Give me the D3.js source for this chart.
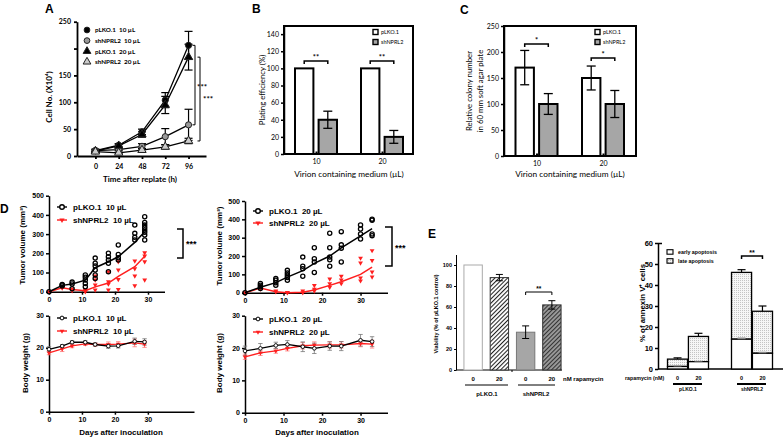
<!DOCTYPE html>
<html>
<head>
<meta charset="utf-8">
<script src="https://cdn.jsdelivr.net/npm/d3@7"></script>
<style>
  body { margin: 0; background: #fff; }
  text { white-space: pre; }
</style>
</head>
<body>
<svg id="fig" width="783" height="438"></svg>
<script>
// ---------- data ----------
// A: cell growth after replating
const hours = [0, 24, 48, 72, 96];
const cellTicks = [0, 50, 100, 150, 200, 250];
const cellTickLabels = ["0", "50", "100", "150", "", "250"];
const seriesA = ["pLKO.1  10 µL", "shNPRL2  10 µL", "pLKO.1  20 µL", "shNPRL2  20 µL"];
const cellPlko10 = [10, 20, 45, 104, 206];
const cellPlko10Err = [3, 3, 5, 14, 26];
const cellSh10 = [10, 12, 18, 36, 58];
const cellSh10Err = [2, 2, 5, 15, 29];
const cellPlko20 = [9, 19, 40, 95, 184];
const cellPlko20Err = [2, 3, 5, 16, 24];
const cellSh20 = [8, 6, 11, 17, 28];
const cellSh20Err = [1, 1, 3, 4, 5];

// B, C: plating efficiency / soft agar colonies
const doses = ["10", "20"];
const groups = ["pLKO.1", "shNPRL2"];
const plateTicks = [0, 20, 40, 60, 80, 100, 120, 140];
const platePlko = [100, 100];
const platePlkoErr = [0, 0];
const plateSh = [40, 20];
const plateShErr = [10, 7.5];
const colonyTicks = [0, 50, 100, 150, 200, 250];
const colonyPlko = [170, 150];
const colonyPlkoErr = [33, 23];
const colonySh = [100, 100];
const colonyShErr = [20, 26];

// D: xenograft tumour volume and body weight
const tumDays10 = [0, 4, 7, 11, 14, 18, 21, 26, 29];
const tumPlko10 = [0, 33, 40, 60, 125, 156, 182, 257, 312];
const tumSh10 = [0, 20, 12, 5, 25, 45, 80, 130, 185];
const tumPlko10Pts = [[0], [30, 35, 38], [50, 40, 15], [87, 75, 61, 43, 26], [175, 148, 134, 113, 87, 69],
  [200, 182, 165, 148, 104], [243, 194, 177, 165], [347, 304, 283, 269], [390, 361, 347, 335, 321, 309, 295, 269]];
const tumSh10Pts = [[0], [20, 22], [15, 5], [0, 5, 10], [82, 61, 35, 9], [104, 52, 40, 9],
  [156, 113, 64, 12], [160, 120, 82, 31], [203, 186, 156, 61]];
const tumDays20 = [0, 4, 8, 11, 15, 18, 22, 25, 30, 33];
const tumPlko20 = [0, 30, 55, 85, 120, 160, 200, 245, 310, 350];
const tumSh20 = [0, 25, 5, 0, 3, 15, 40, 60, 100, 140];
const tumPlko20Pts = [[0], [50, 41, 32, 23], [77, 68, 54, 41], [122, 108, 95, 83, 68], [194, 144, 131, 90],
  [245, 185, 167, 110], [324, 245, 194, 180, 144], [333, 261, 243, 167], [369, 347, 320, 293], [401, 395, 320, 311]];
const tumSh20Pts = [[0], [25, 20], [10, 5], [0, 2], [10, 0], [40, 20, 10], [75, 50, 30], [90, 70, 50],
  [189, 162, 81, 65], [230, 176, 113, 86]];
const tumTicks = [0, 100, 200, 300, 400, 500];
const dayTicks = [0, 10, 20, 30];
const bwTicks = [0, 10, 20, 30];
const bwPlko10 = [19.5, 20.5, 21.7, 21.7, 21.0, 20.5, 20.6, 22.0, 21.8];
const bwPlko10Err = [0.8, 0.5, 0.5, 0.5, 0.5, 0.7, 0.7, 1.0, 1.0];
const bwSh10 = [18.4, 19.6, 20.6, 21.2, 21.0, 21.0, 21.1, 21.5, 21.1];
const bwSh10Err = [0.6, 0.8, 0.6, 0.5, 0.5, 0.8, 0.8, 1.2, 1.0];
const bwPlko20 = [19.1, 19.9, 20.8, 21.1, 20.4, 19.9, 20.6, 20.6, 22.4, 22.0];
const bwPlko20Err = [1.5, 1.5, 1.0, 1.2, 1.5, 1.6, 1.3, 1.4, 1.8, 1.5];
const bwSh20 = [17.3, 18.5, 19.1, 19.9, 20.7, 20.9, 21.0, 21.0, 21.4, 21.2];
const bwSh20Err = [0.8, 0.8, 0.7, 0.8, 1.0, 1.0, 1.0, 1.0, 1.0, 1.2];

// E: rapamycin viability and annexin V
const rapaDose = ["0", "20", "0", "20"];
const viaTicks = [0, 20, 40, 60, 80, 100];
const viability = [100, 88, 36, 62];
const viabilityErr = [0, 3, 6, 4];
const annexTicks = [0, 10, 20, 30, 40, 50, 60];
const annexSeries = ["early apoptosis", "late apoptosis"];
const annexEarly = [1.2, 3.5, 14.2, 7.5];
const annexEarlyErr = [0.4, 0.4, 0.8, 0.7];
const annexLate = [3.5, 12.0, 31.8, 20.0];
const annexTotalErr = [0.6, 1.5, 1.3, 2.5];

// ---------- helpers ----------
const svg = d3.select("#fig");
const CAL = "Lato, 'Liberation Sans', sans-serif";
const ARI = "'Liberation Sans', Arial, sans-serif";
const RED = "#ff1f1f";

function axisStyle(g, sw, fs, fw, fam) {
  g.attr("font-family", fam).attr("font-size", fs).attr("font-weight", fw);
  g.select(".domain").attr("stroke", "#000").attr("stroke-width", sw);
  g.selectAll(".tick line").attr("stroke", "#000").attr("stroke-width", sw);
  g.selectAll(".tick text").attr("fill", "#000");
}

function label(x, y, txt, fs, fw, fam, anchor, rot) {
  const t = svg.append("text").attr("x", x).attr("y", y).text(txt)
    .attr("font-size", fs).attr("font-weight", fw).attr("font-family", fam)
    .attr("text-anchor", anchor || "start").attr("fill", "#000");
  if (rot) t.attr("transform", `rotate(${rot},${x},${y})`);
  return t;
}

function errBar(g, x, yA, yB, cap, col, sw) {
  g.append("line").attr("x1", x).attr("x2", x).attr("y1", yA).attr("y2", yB)
    .attr("stroke", col).attr("stroke-width", sw);
  [yA, yB].forEach(yy => g.append("line").attr("x1", x - cap).attr("x2", x + cap)
    .attr("y1", yy).attr("y2", yy).attr("stroke", col).attr("stroke-width", sw));
}

// bracket with feet pointing down
function bracketH(x1, x2, y, foot, sw) {
  svg.append("path").attr("d", `M${x1},${y + foot}V${y}H${x2}V${y + foot}`)
    .attr("fill", "none").attr("stroke", "#000").attr("stroke-width", sw);
}
// bracket with feet pointing left
function bracketV(x, y1, y2, foot, sw) {
  svg.append("path").attr("d", `M${x - foot},${y1}H${x}V${y2}H${x - foot}`)
    .attr("fill", "none").attr("stroke", "#000").attr("stroke-width", sw);
}

// patterns
const defs = svg.append("defs");
function hatch(id, bg, fg, w) {
  const p = defs.append("pattern").attr("id", id).attr("patternUnits", "userSpaceOnUse")
    .attr("width", 3).attr("height", 3).attr("patternTransform", "rotate(45)");
  p.append("rect").attr("width", 3).attr("height", 3).attr("fill", bg);
  p.append("line").attr("x1", 0.5).attr("x2", 0.5).attr("y1", 0).attr("y2", 3).attr("stroke", fg).attr("stroke-width", w);
}
hatch("hatchW", "#fff", "#222", 1.1);
hatch("hatchG", "#9a9a9a", "#333", 1.1);
const dots = defs.append("pattern").attr("id", "dots").attr("patternUnits", "userSpaceOnUse")
  .attr("width", 2).attr("height", 2);
dots.append("rect").attr("width", 2).attr("height", 2).attr("fill", "#f6f6f6");
dots.append("rect").attr("width", 1).attr("height", 1).attr("fill", "#c4c4c4");

// panel letters
label(45, 13, "A", 12, "bold", ARI);
label(252, 13, "B", 12, "bold", ARI);
label(460, 14, "C", 12, "bold", ARI);
label(0, 213, "D", 12, "bold", ARI);
label(428, 238, "E", 12, "bold", ARI);

// ---------- A ----------
{
  const x = d3.scaleLinear().domain([-19, 114]).range([77, 206]);
  const y = d3.scaleLinear().domain([0, 250]).range([156, 21.7]);
  const gx = svg.append("g").attr("transform", "translate(0,156)")
    .call(d3.axisBottom(x).tickValues(hours).tickSize(3).tickSizeOuter(0).tickPadding(5));
  axisStyle(gx, 1.8, 7, "bold", CAL);
  const gy = svg.append("g").attr("transform", "translate(77,0)")
    .call(d3.axisLeft(y).tickValues(cellTicks).tickFormat((d, i) => cellTickLabels[i])
      .tickSize(3).tickSizeOuter(0).tickPadding(3));
  axisStyle(gy, 1.8, 7, "bold", CAL);

  const ser = [
    { v: cellPlko10, e: cellPlko10Err, sym: d3.symbolCircle, fill: "#000" },
    { v: cellSh10, e: cellSh10Err, sym: d3.symbolCircle, fill: "#999" },
    { v: cellPlko20, e: cellPlko20Err, sym: d3.symbolTriangle, fill: "#000" },
    { v: cellSh20, e: cellSh20Err, sym: d3.symbolTriangle, fill: "#ccc" }
  ];
  const g = svg.append("g");
  const line = d3.line().x((d, i) => x(hours[i])).y(d => y(d));
  ser.forEach(s => {
    s.v.forEach((d, i) => errBar(g, x(hours[i]), y(d - s.e[i]), y(d + s.e[i]), 4, "#000", 1.2));
  });
  ser.forEach(s => {
    g.append("path").attr("d", line(s.v)).attr("fill", "none").attr("stroke", "#000").attr("stroke-width", 1.3);
  });
  ser.forEach(s => {
    g.selectAll(null).data(s.v).join("path")
      .attr("transform", (d, i) => `translate(${x(hours[i])},${y(d)})`)
      .attr("d", d3.symbol().type(s.sym).size(30))
      .attr("fill", s.fill).attr("stroke", "#222").attr("stroke-width", 1);
  });
  // legend
  seriesA.forEach((name, i) => {
    const yy = 30 + i * 10.6;
    g.append("path").attr("transform", `translate(87,${yy})`)
      .attr("d", d3.symbol().type(ser[i].sym).size(26))
      .attr("fill", ser[i].fill).attr("stroke", "#222").attr("stroke-width", 1);
    label(95, yy + 2.3, name, 6.3, "bold", CAL);
  });
  bracketV(195, y(206), y(58), 2.5, 1);
  label(197, 90, "***", 8, "bold", CAL);
  bracketV(200, y(184), y(28), 2.5, 1);
  label(203, 102, "***", 8, "bold", CAL);
  label(52, 97, "Cell No. (X10⁴)", 8, "bold", CAL, "middle", -90);
  label(140, 182, "Time after replate (h)", 8, "bold", CAL, "middle");
}

// ---------- B & C ----------
function framedBars(o) {
  const y = d3.scaleLinear().domain([0, o.yMax]).range([o.bot, o.top]);
  const outer = d3.scalePoint().domain(doses).range(o.centers);
  const inner = d3.scaleBand().domain(groups).range([-21, 21]).paddingInner(0.22);
  const gy = svg.append("g").attr("transform", `translate(${o.left},0)`)
    .call(d3.axisLeft(y).tickValues(o.ticks).tickSize(3).tickSizeOuter(0).tickPadding(2));
  axisStyle(gy, 1.5, 7, "normal", CAL);
  const gx = svg.append("g").attr("transform", `translate(0,${o.bot})`)
    .call(d3.axisBottom(outer).tickSize(-2.5).tickSizeOuter(0).tickPadding(5));
  axisStyle(gx, 2, 7, "normal", CAL);
  gx.select(".domain").remove();
  const g = svg.append("g");
  const vals = [o.plko, o.sh], errs = [o.plkoErr, o.shErr], fills = ["#fff", "#a6a6a6"];
  groups.forEach((grp, k) => {
    vals[k].forEach((v, i) => {
      const bx = outer(doses[i]) + inner(grp);
      g.append("rect").attr("x", bx).attr("y", y(v)).attr("width", inner.bandwidth())
        .attr("height", y(0) - y(v)).attr("fill", fills[k]).attr("stroke", "#000").attr("stroke-width", 2);
      if (errs[k][i] > 0)
        errBar(g, bx + inner.bandwidth() / 2, y(v - errs[k][i]), y(v + errs[k][i]), 4.5, "#000", 1.3);
    });
  });
  svg.append("rect").attr("x", o.left).attr("y", o.top).attr("width", o.right - o.left)
    .attr("height", o.bot - o.top).attr("fill", "none").attr("stroke", "#000").attr("stroke-width", 2);
  // legend
  groups.forEach((grp, k) => {
    const yy = o.top + 6 + k * 10;
    svg.append("rect").attr("x", o.legX).attr("y", yy - 2.5).attr("width", 5).attr("height", 5)
      .attr("fill", fills[k]).attr("stroke", "#000").attr("stroke-width", 1.4);
    label(o.legX + 8, yy + 2, grp, 5.5, "normal", CAL);
  });
  // significance
  doses.forEach((d, i) => {
    const xa = outer(d) + inner("pLKO.1") + inner.bandwidth() / 2;
    const xb = outer(d) + inner("shNPRL2") + inner.bandwidth() / 2;
    bracketH(xa, xb, o.sigY[i], 3, 1.5);
    label((xa + xb) / 2, o.sigY[i] - 1, o.sig, 7.5, "bold", CAL, "middle");
  });
  return y;
}

framedBars({ left: 284, right: 413, top: 26, bot: 154, yMax: 149.5, ticks: plateTicks,
  centers: [316, 382], plko: platePlko, plkoErr: platePlkoErr, sh: plateSh, shErr: plateShErr,
  legX: 373, sig: "**", sigY: [61, 61] });
label(265, 90, "Plating efficiency (%)", 7.8, "normal", CAL, "middle", -90);
label(349, 177, "Virion containing medium (µL)", 8.3, "normal", CAL, "middle");

framedBars({ left: 504, right: 636, top: 26, bot: 156, yMax: 250, ticks: colonyTicks,
  centers: [536.5, 603], plko: colonyPlko, plkoErr: colonyPlkoErr, sh: colonySh, shErr: colonyShErr,
  legX: 595, sig: "*", sigY: [44, 58] });
label(472, 91, "Relative colony number", 7.8, "normal", CAL, "middle", -90);
label(483, 91, "in 60 mm soft agar plate", 7.8, "normal", CAL, "middle", -90);
label(570, 177, "Virion containing medium (µL)", 8.3, "normal", CAL, "middle");

// ---------- D ----------
function dAxes(xRange, xMax, yRange, yMax, yTicks) {
  const x = d3.scaleLinear().domain([0, xMax]).range(xRange);
  const y = d3.scaleLinear().domain([0, yMax]).range(yRange);
  const gx = svg.append("g").attr("transform", `translate(0,${yRange[0]})`)
    .call(d3.axisBottom(x).tickValues(dayTicks).tickSize(3).tickSizeOuter(0).tickPadding(2));
  axisStyle(gx, 1.5, 7, "bold", ARI);
  const gy = svg.append("g").attr("transform", `translate(${xRange[0]},0)`)
    .call(d3.axisLeft(y).tickValues(yTicks).tickSize(3).tickSizeOuter(0).tickPadding(2));
  axisStyle(gy, 1.5, 7, "bold", ARI);
  return { x, y };
}
const triDown = d3.symbol().type(d3.symbolTriangle);

function dLegend(mx, y1, y2, names, small) {
  const rows = [y1, y2], cols = ["#000", RED];
  rows.forEach((yy, k) => {
    svg.append("line").attr("x1", mx - 5).attr("x2", mx + 5).attr("y1", yy).attr("y2", yy)
      .attr("stroke", cols[k]).attr("stroke-width", 1.4);
    if (k === 0)
      svg.append("circle").attr("cx", mx).attr("cy", yy).attr("r", small ? 1.9 : 2.3)
        .attr("fill", "#fff").attr("stroke", "#000").attr("stroke-width", small ? 1 : 1.4);
    else
      svg.append("path").attr("transform", `translate(${mx},${yy}) rotate(180)`)
        .attr("d", triDown.size(small ? 9 : 12)()).attr("fill", RED);
    label(mx + 11, yy + 3, names[k], 8, "bold", ARI);
  });
}

function tumour(sc, days, plko, sh, plkoPts, shPts) {
  const g = svg.append("g");
  const line = d3.line().x((d, i) => sc.x(days[i])).y(d => sc.y(d));
  shPts.forEach((pts, i) => pts.forEach(p => g.append("path")
    .attr("transform", `translate(${sc.x(days[i])},${sc.y(p)}) rotate(180)`)
    .attr("d", triDown.size(10)()).attr("fill", RED)));
  g.append("path").attr("d", line(sh)).attr("fill", "none").attr("stroke", RED).attr("stroke-width", 1.5);
  plkoPts.forEach((pts, i) => pts.forEach(p => g.append("circle")
    .attr("cx", sc.x(days[i])).attr("cy", sc.y(p)).attr("r", 2.1)
    .attr("fill", "none").attr("stroke", "#000").attr("stroke-width", 1.3)));
  g.append("path").attr("d", line(plko)).attr("fill", "none").attr("stroke", "#000").attr("stroke-width", 1.5);
}

function weight(sc, days, plko, plkoErr, sh, shErr) {
  const g = svg.append("g");
  const line = d3.line().x((d, i) => sc.x(days[i])).y(d => sc.y(d));
  sh.forEach((d, i) => errBar(g, sc.x(days[i]), sc.y(d - shErr[i]), sc.y(d + shErr[i]), 2.2, "#f77", 0.8));
  plko.forEach((d, i) => errBar(g, sc.x(days[i]), sc.y(d - plkoErr[i]), sc.y(d + plkoErr[i]), 2.2, "#777", 0.8));
  g.append("path").attr("d", line(sh)).attr("fill", "none").attr("stroke", RED).attr("stroke-width", 1.3);
  sh.forEach((d, i) => g.append("path").attr("transform", `translate(${sc.x(days[i])},${sc.y(d)}) rotate(180)`)
    .attr("d", triDown.size(9)()).attr("fill", RED));
  g.append("path").attr("d", line(plko)).attr("fill", "none").attr("stroke", "#000").attr("stroke-width", 1.3);
  plko.forEach((d, i) => g.append("circle").attr("cx", sc.x(days[i])).attr("cy", sc.y(d)).attr("r", 1.8)
    .attr("fill", "#fff").attr("stroke", "#000").attr("stroke-width", 0.9));
}

// top-left tumour 10 µL
const sTL = dAxes([49, 164.5], 35, [291.7, 195.7], 500, tumTicks);
tumour(sTL, tumDays10, tumPlko10, tumSh10, tumPlko10Pts, tumSh10Pts);
dLegend(62, 207, 220, ["pLKO.1  10 µL", "shNPRL2  10 µL"], false);
bracketV(183, 229, 258, 6, 1.5);
label(186, 247, "***", 9, "bold", ARI);
label(25, 245, "Tumor volume (mm³)", 8, "bold", ARI, "middle", -90);

// top-right tumour 20 µL
const sTR = dAxes([245, 387.5], 37, [292.7, 201], 500, tumTicks);
tumour(sTR, tumDays20, tumPlko20, tumSh20, tumPlko20Pts, tumSh20Pts);
dLegend(258, 211, 223, ["pLKO.1  20 µL", "shNPRL2  20 µL"], false);
bracketV(392, 227, 266, 7, 1.5);
label(395, 251, "***", 9, "bold", ARI);
label(222, 246, "Tumor volume (mm³)", 8, "bold", ARI, "middle", -90);

// bottom-left body weight 10 µL
const sBL = dAxes([49, 194], 44, [411.7, 315.7], 30, bwTicks);
weight(sBL, tumDays10, bwPlko10, bwPlko10Err, bwSh10, bwSh10Err);
dLegend(62, 318, 331, ["pLKO.1  10 µL", "shNPRL2  10 µL"], true);
label(28, 363, "Body weight (g)", 8, "bold", ARI, "middle", -90);
label(121, 435, "Days after inoculation", 8, "bold", ARI, "middle");

// bottom-right body weight 20 µL
const sBR = dAxes([245, 387.5], 37, [412.7, 315.7], 30, bwTicks);
weight(sBR, tumDays20, bwPlko20, bwPlko20Err, bwSh20, bwSh20Err);
dLegend(258, 319, 332, ["pLKO.1  20 µL", "shNPRL2  20 µL"], true);
label(222, 363, "Body weight (g)", 8, "bold", ARI, "middle", -90);
label(317, 435, "Days after inoculation", 8, "bold", ARI, "middle");

// ---------- E: viability ----------
{
  const conds = rapaDose.map((d, i) => i + ":" + d);
  const x = d3.scaleBand().domain(conds).range([460, 565]).paddingInner(0.3).paddingOuter(0.15);
  const y = d3.scaleLinear().domain([0, 110]).range([370, 254.5]);
  const gy = svg.append("g").attr("transform", "translate(456,0)")
    .call(d3.axisLeft(y).tickValues(viaTicks).tickSize(2).tickSizeOuter(0).tickPadding(2));
  axisStyle(gy, 1, 5.5, "bold", ARI);
  svg.append("line").attr("x1", 456).attr("x2", 562).attr("y1", 370).attr("y2", 370)
    .attr("stroke", "#000").attr("stroke-width", 1);
  svg.append("line").attr("x1", 512).attr("x2", 512).attr("y1", 370).attr("y2", 372)
    .attr("stroke", "#000").attr("stroke-width", 1);
  const fills = ["#fff", "url(#hatchW)", "#a6a6a6", "url(#hatchG)"];
  const strokes = ["#aaa", "#333", "#777", "#333"];
  const g = svg.append("g");
  viability.forEach((v, i) => {
    g.append("rect").attr("x", x(conds[i])).attr("y", y(v)).attr("width", x.bandwidth())
      .attr("height", y(0) - y(v)).attr("fill", fills[i]).attr("stroke", strokes[i]).attr("stroke-width", 1);
    if (viabilityErr[i] > 0)
      errBar(g, x(conds[i]) + x.bandwidth() / 2, y(v - viabilityErr[i]), y(v + viabilityErr[i]), 3.5, "#000", 1);
  });
  conds.forEach((c, i) => label(x(c) + x.bandwidth() / 2, 381, rapaDose[i], 6, "bold", ARI, "middle"));
  label(563, 381, "nM rapamycin", 6, "bold", ARI);
  [[465, 508, "pLKO.1"], [518, 555, "shNPRL2"]].forEach(r => {
    svg.append("line").attr("x1", r[0]).attr("x2", r[1]).attr("y1", 385).attr("y2", 385).attr("stroke", "#000").attr("stroke-width", 1);
  });
  groups.forEach((grp, k) => label(k ? 536 : 487, 396, grp, 6, "bold", ARI, "middle"));
  const xa = x(conds[2]) + x.bandwidth() / 2, xb = x(conds[3]) + x.bandwidth() / 2;
  bracketH(xa, xb, 292, 3, 1);
  label((xa + xb) / 2, 291, "**", 6.5, "bold", ARI, "middle");
  label(438, 314, "Viability (% of pLKO.1 control)", 5.5, "bold", ARI, "middle", -90);
}

// ---------- E: annexin V ----------
{
  const outer = d3.scalePoint().domain(groups).range([688, 752]);
  const inner = d3.scaleBand().domain(["0", "20"]).range([-20.5, 20.5]).paddingInner(0.04);
  const y = d3.scaleLinear().domain([0, 60]).range([369, 243]);
  const gy = svg.append("g").attr("transform", "translate(658,0)")
    .call(d3.axisLeft(y).tickValues(annexTicks).tickSize(3).tickSizeOuter(0).tickPadding(2));
  axisStyle(gy, 1.5, 7.5, "bold", ARI);
  svg.append("line").attr("x1", 658).attr("x2", 662).attr("y1", 243.5).attr("y2", 243.5)
    .attr("stroke", "#000").attr("stroke-width", 1.5);
  svg.append("line").attr("x1", 658).attr("x2", 783).attr("y1", 369).attr("y2", 369)
    .attr("stroke", "#000").attr("stroke-width", 1.5);
  const g = svg.append("g");
  annexEarly.forEach((e, i) => {
    const grp = groups[Math.floor(i / 2)], dose = rapaDose[i];
    const bx = outer(grp) + inner(dose), bw = inner.bandwidth();
    const tot = e + annexLate[i];
    g.append("rect").attr("x", bx).attr("y", y(tot)).attr("width", bw).attr("height", y(e) - y(tot))
      .attr("fill", "url(#dots)").attr("stroke", "#000").attr("stroke-width", 1.3);
    g.append("rect").attr("x", bx).attr("y", y(e)).attr("width", bw).attr("height", y(0) - y(e))
      .attr("fill", "#fff").attr("stroke", "#000").attr("stroke-width", 1.3);
    const cx = bx + bw / 2;
    g.append("line").attr("x1", cx).attr("x2", cx).attr("y1", y(tot)).attr("y2", y(tot + annexTotalErr[i]))
      .attr("stroke", "#000").attr("stroke-width", 1.2);
    g.append("line").attr("x1", cx - 4).attr("x2", cx + 4).attr("y1", y(tot + annexTotalErr[i])).attr("y2", y(tot + annexTotalErr[i]))
      .attr("stroke", "#000").attr("stroke-width", 1.2);
    g.append("rect").attr("x", cx - 4).attr("y", y(e + annexEarlyErr[i])).attr("width", 8)
      .attr("height", y(e) - y(e + annexEarlyErr[i])).attr("fill", "#888");
  });
  // legend
  annexSeries.forEach((s, k) => {
    const yy = 252 + k * 9;
    svg.append("rect").attr("x", 667).attr("y", yy - 2.3).attr("width", 6).attr("height", 4.5)
      .attr("fill", k ? "url(#dots)" : "#fff").attr("stroke", "#000").attr("stroke-width", 1.1);
    label(678, yy + 2, s, 5.3, "bold", ARI);
  });
  const xa = outer("shNPRL2") + inner("0") + inner.bandwidth() / 2;
  const xb = outer("shNPRL2") + inner("20") + inner.bandwidth() / 2;
  bracketH(xa, xb, 256, 3, 1.5);
  label((xa + xb) / 2, 255, "**", 7, "bold", ARI, "middle");
  label(625, 380, "rapamycin (nM)", 5.3, "bold", ARI);
  groups.forEach((grp, k) => {
    ["0", "20"].forEach(d => label(outer(grp) + inner(d) + inner.bandwidth() / 2, 380, d, 5.5, "bold", ARI, "middle"));
    svg.append("line").attr("x1", outer(grp) - 15).attr("x2", outer(grp) + 14).attr("y1", 384).attr("y2", 384)
      .attr("stroke", "#000").attr("stroke-width", 2);
    label(outer(grp), 391, grp, 5, "bold", ARI, "middle");
  });
  label(645, 303, "% of annexin V⁺ cells", 7.8, "bold", ARI, "middle", -90);
}
</script>
</body>
</html>
